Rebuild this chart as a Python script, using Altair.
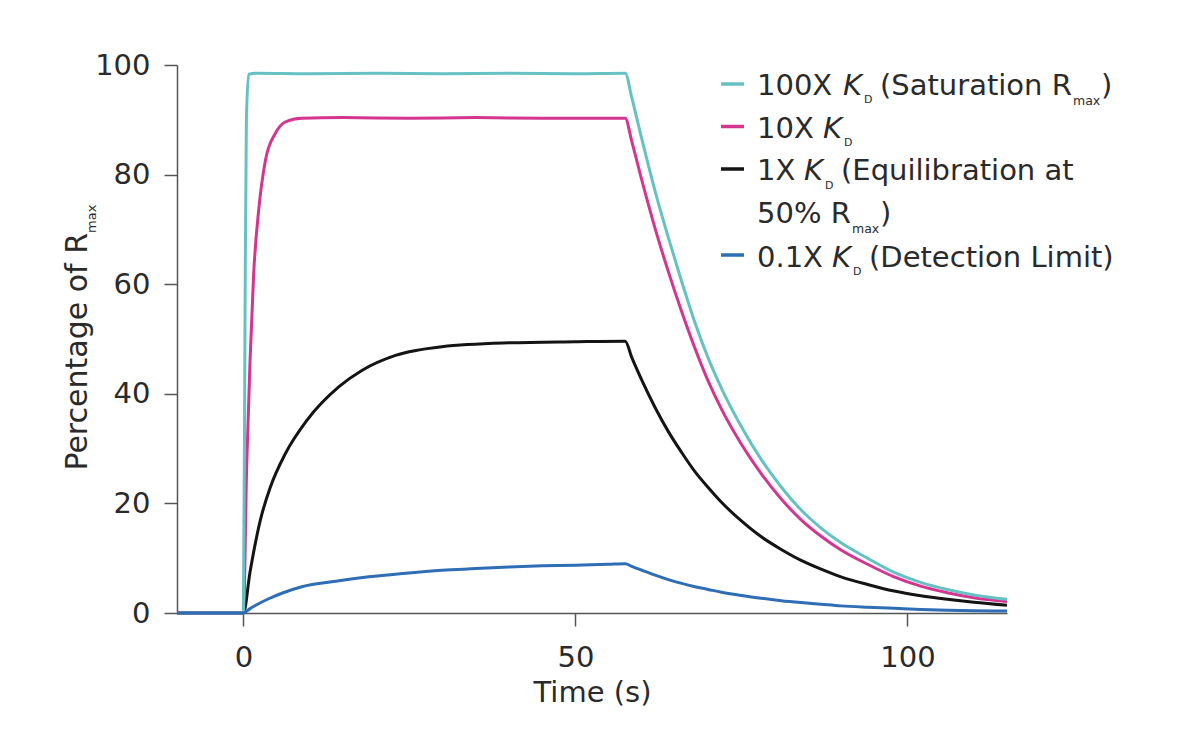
import altair as alt
import pandas as pd

FONT = "DejaVu Sans"
TXT = "#2a2a2a"
AX = "#555555"

# ---- data (time in s, percentage of Rmax) ----
t_100x = [-10, 0, 0.25, 0.45, 0.8, 2, 10, 20, 30, 40, 50, 57.5,
          58.5, 60, 62, 64, 66, 68, 70, 72, 75, 78, 81, 84, 87, 90, 94, 98, 102, 106, 110, 115]
v_100x = [0, 0, 55, 90, 98.3, 98.5, 98.4, 98.5, 98.4, 98.5, 98.4, 98.5,
          94.0, 86.5, 77.0, 68.5, 60.5, 53.0, 46.5, 41.0, 34.0, 28.0, 23.0, 18.8, 15.5, 12.8, 10.0, 7.4, 5.6, 4.3, 3.3, 2.5]

t_10x = [-10, 0, 0.5, 1.0, 1.55, 2.3, 3.3, 4.8, 6.3, 8.8, 15, 25, 35, 45, 57.5,
         58.5, 60, 62, 64, 66, 68, 70, 72, 75, 78, 81, 84, 87, 90, 94, 98, 102, 106, 110, 115]
v_10x = [0, 0, 27, 46, 62, 73.5, 82.5, 87.5, 89.6, 90.3, 90.4, 90.3, 90.4, 90.3, 90.3,
         86.0, 79.0, 70.2, 62.3, 55.0, 48.3, 42.3, 37.2, 30.8, 25.4, 20.8, 17.0, 14.0, 11.5, 8.9, 6.6, 4.9, 3.7, 2.8, 2.1]

t_1x = [-10, 0, 1.0, 2.56, 4.07, 6.33, 9.59, 14.4, 17.9, 22.9, 29.9, 40, 50, 57.5,
        58.5, 60, 62, 64, 66, 68, 70, 72, 75, 78, 81, 84, 87, 90, 94, 98, 102, 106, 110, 115]
v_1x = [0, 0, 7.5, 17.0, 23.0, 29.1, 35.2, 41.3, 44.3, 47.0, 48.6, 49.3, 49.5, 49.6,
        46.6, 42.5, 37.5, 33.1, 29.3, 25.8, 22.9, 20.2, 16.8, 13.9, 11.6, 9.6, 8.0, 6.6, 5.2, 4.0, 3.15, 2.5, 1.95, 1.4]

t_01x = [-10, 0, 1, 2, 3.8, 6, 8.8, 13.9, 18.9, 23.9, 29.9, 35, 40, 45, 50, 55, 57.5,
         58.5, 60, 62, 64, 66, 68, 70, 72, 75, 78, 81, 84, 87, 90, 94, 98, 102, 106, 110, 115]
v_01x = [0, 0, 0.8, 1.5, 2.6, 3.7, 4.8, 5.8, 6.6, 7.2, 7.8, 8.1, 8.4, 8.6, 8.7, 8.9, 9.0,
         8.5, 7.8, 6.9, 6.1, 5.4, 4.8, 4.3, 3.8, 3.2, 2.7, 2.25, 1.9, 1.6, 1.3, 1.05, 0.85, 0.65, 0.5, 0.4, 0.35]

x_ticks = [0, 50, 100]
y_ticks = [0, 20, 40, 60, 80, 100]

C_100X = "#66c1c4"
C_10X = "#d4358f"
C_1X = "#141414"
C_01X = "#2f6db5"

# draw order: black, magenta, teal, blue (blue on top)
series = [
    (t_1x, v_1x, C_1X),
    (t_10x, v_10x, C_10X),
    (t_100x, v_100x, C_100X),
    (t_01x, v_01x, C_01X),
]

xscale = alt.Scale(domain=[-10, 115], nice=False, zero=False)
yscale = alt.Scale(domain=[0, 100], nice=False)
xaxis = alt.Axis(values=x_ticks, title="Time (s)", grid=False, tickSize=13,
                 labelPadding=17, labelFont=FONT, labelFontSize=29, labelColor=TXT,
                 titleFont=FONT, titleFontSize=29, titleFontWeight="normal", titleColor=TXT,
                 titleBaseline="alphabetic", titleY=88,
                 domainColor=AX, tickColor=AX, domainWidth=1.5, tickWidth=1.5)
yaxis = alt.Axis(values=y_ticks, title=None, grid=False, tickSize=13,
                 labelPadding=14, labelFont=FONT, labelFontSize=29, labelColor=TXT,
                 domainColor=AX, tickColor=AX, domainWidth=1.5, tickWidth=1.5)

layers = []
for tt, vv, col in series:
    df = pd.DataFrame({"t": tt, "v": vv})
    layers.append(
        alt.Chart(df).mark_line(color=col, strokeWidth=3, interpolate="monotone").encode(
            x=alt.X("t:Q", scale=xscale, axis=xaxis),
            y=alt.Y("v:Q", scale=yscale, axis=yaxis),
        )
    )

one = pd.DataFrame({"k": [0]})


def txt(s, px, py, size=29, style="normal", angle=0, align="left"):
    return alt.Chart(one).mark_text(
        text=s, font=FONT, fontSize=size, fontStyle=style, align=align,
        baseline="alphabetic", angle=angle, color=TXT
    ).encode(x=alt.value(px), y=alt.value(py))


def swatch(py, col):
    return alt.Chart(one).mark_rule(color=col, strokeWidth=3.5).encode(
        x=alt.value(544), x2=alt.value(567), y=alt.value(py)
    )


# legend (pixel positions relative to plot area)
leg = [
    swatch(19, C_100X),
    txt("100X", 580, 29.5),
    txt("K", 666, 29.5, style="italic"),
    txt("D", 687, 38, size=11),
    txt("(Saturation R", 703, 29.5),
    txt("max", 896, 40, size=12.5),
    txt(")", 924, 29.5),

    swatch(61.5, C_10X),
    txt("10X", 580, 72.7),
    txt("K", 646, 72.7, style="italic"),
    txt("D", 667, 81, size=11),

    swatch(104, C_1X),
    txt("1X", 580, 115),
    txt("K", 627, 115, style="italic"),
    txt("D", 648, 123.5, size=11),
    txt("(Equilibration at", 664, 115),
    txt("50% R", 580, 158.3),
    txt("max", 675, 168, size=12.5),
    txt(")", 703, 158.3),

    swatch(190, C_01X),
    txt("0.1X", 580, 201.7),
    txt("K", 655, 201.7, style="italic"),
    txt("D", 676, 210, size=11),
    txt("(Detection Limit)", 692, 201.7),
]

# rotated y-axis title with subscript
ytitle = [
    txt("Percentage of R", -90, 168, size=30, angle=270, align="right"),
    txt("max", -81, 168, size=13, angle=270, align="left"),
]

chart = alt.layer(*layers, *leg, *ytitle).properties(
    width=830,
    height=548,
    autosize=alt.AutoSizeParams(type="none"),
    padding={"left": 169, "top": 57, "right": 180, "bottom": 110},
).configure_view(stroke=None)

chart.save("out.html", embed_options={"renderer": "svg", "actions": False})
